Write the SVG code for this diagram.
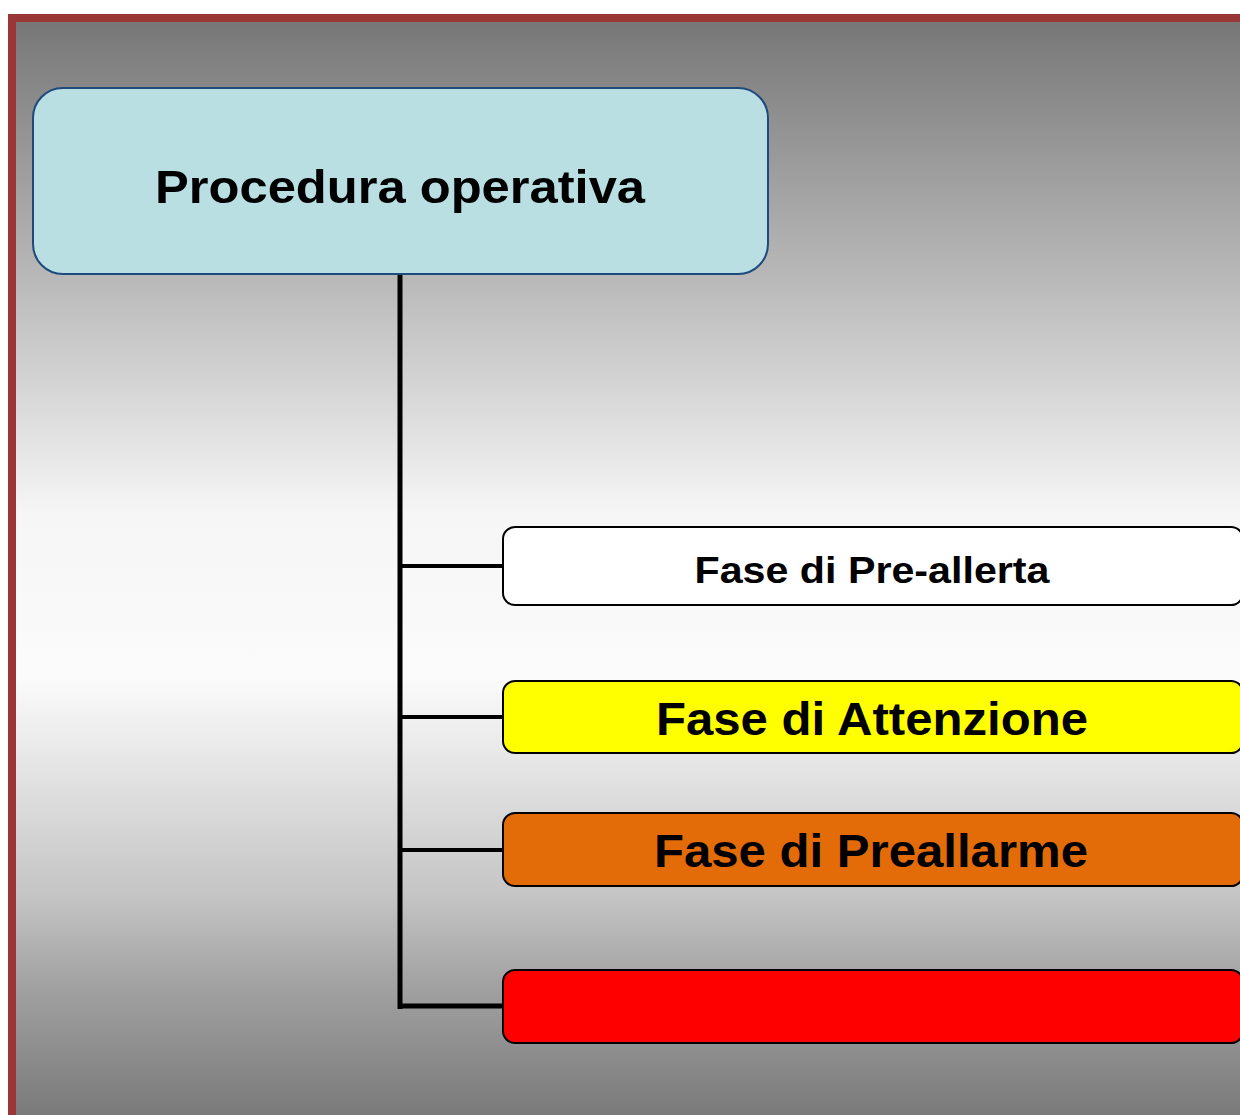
<svg xmlns="http://www.w3.org/2000/svg" width="1240" height="1115" viewBox="0 0 1240 1115">
<defs>
<linearGradient id="bg" gradientUnits="userSpaceOnUse" x1="0" y1="22" x2="0" y2="1115">
<stop offset="0" stop-color="#777777"/>
<stop offset="0.25" stop-color="#bdbdbd"/>
<stop offset="0.45" stop-color="#f6f6f6"/>
<stop offset="0.6" stop-color="#fbfbfb"/>
<stop offset="0.8" stop-color="#c4c4c4"/>
<stop offset="0.88" stop-color="#a2a2a2"/>
<stop offset="1" stop-color="#7a7a7a"/>
</linearGradient>
<style>
.t{font-family:"Liberation Sans",Arial,sans-serif;font-weight:bold;fill:#000;text-anchor:middle}
.box{stroke:#000;stroke-width:2}
.conn{stroke:#000;fill:none}
</style>
</defs>
<rect x="0" y="0" width="1240" height="1115" fill="#ffffff"/>
<rect x="12" y="18" width="1240" height="1110" fill="url(#bg)" stroke="#993737" stroke-width="8"/>
<g id="connectors">
<line class="conn" x1="400" y1="274" x2="400" y2="1009" stroke-width="5"/>
<line class="conn" x1="398" y1="566" x2="504" y2="566" stroke-width="4"/>
<line class="conn" x1="398" y1="717" x2="504" y2="717" stroke-width="4"/>
<line class="conn" x1="398" y1="850" x2="504" y2="850" stroke-width="4"/>
<line class="conn" x1="398" y1="1006" x2="504" y2="1006" stroke-width="5"/>
</g>
<g id="root">
<rect x="33" y="88" width="735" height="186" rx="30" fill="#b9dfe3" stroke="#1f497d" stroke-width="2"/>
<text class="t" x="400" y="203" font-size="46" textLength="490" lengthAdjust="spacingAndGlyphs">Procedura operativa</text>
</g>
<g id="prealerta">
<rect class="box" x="503" y="527" width="740" height="78" rx="12" fill="#ffffff"/>
<text class="t" x="872" y="583" font-size="37" textLength="355" lengthAdjust="spacingAndGlyphs">Fase di Pre-allerta</text>
</g>
<g id="attenzione">
<rect class="box" x="503" y="681" width="740" height="72" rx="12" fill="#ffff00"/>
<text class="t" x="872" y="735" font-size="46" textLength="432" lengthAdjust="spacingAndGlyphs">Fase di Attenzione</text>
</g>
<g id="preallarme">
<rect class="box" x="503" y="813" width="740" height="73" rx="12" fill="#e36c09"/>
<text class="t" x="871" y="867" font-size="46" textLength="434" lengthAdjust="spacingAndGlyphs">Fase di Preallarme</text>
</g>
<g id="allarme">
<rect class="box" x="503" y="970" width="740" height="73" rx="12" fill="#ff0000"/>
</g>
</svg>
